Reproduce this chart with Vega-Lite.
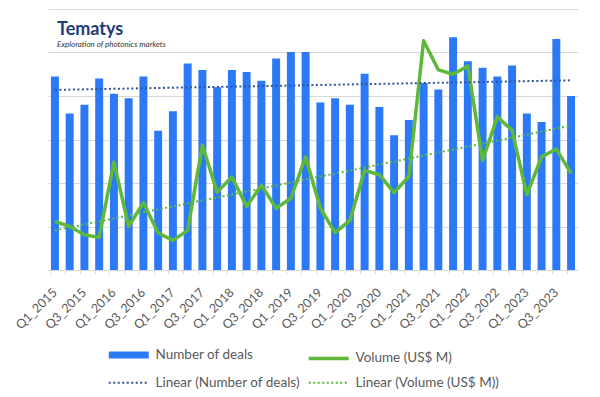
{
  "$schema": "https://vega.github.io/schema/vega-lite/v6.json",
  "width": 530,
  "height": 261,
  "autosize": {"type": "none"},
  "padding": {"left": 48, "top": 9, "right": 22, "bottom": 127},
  "background": "white",
  "config": {"view": {"stroke": null}, "font": "Lato"},
  "title": {
    "text": "Tematys",
    "subtitle": "Exploration of photonics markets",
    "anchor": "start",
    "frame": "group",
    "orient": "top",
    "offset": -40,
    "dx": 9,
    "font": "Lato",
    "fontSize": 18,
    "fontWeight": "bold",
    "color": "#1E3C78",
    "subtitleFont": "Lato",
    "subtitleFontSize": 8,
    "subtitleFontStyle": "italic",
    "subtitleColor": "#333333",
    "subtitlePadding": 2
  },
  "datasets": {
    "main": [
      {"q": "Q1_2015", "Number of deals": 44.5, "Volume (US$ M)": 11.2},
      {"q": "Q2_2015", "Number of deals": 36.0, "Volume (US$ M)": 10.0},
      {"q": "Q3_2015", "Number of deals": 38.0, "Volume (US$ M)": 8.1},
      {"q": "Q4_2015", "Number of deals": 44.0, "Volume (US$ M)": 7.5},
      {"q": "Q1_2016", "Number of deals": 40.5, "Volume (US$ M)": 24.8},
      {"q": "Q2_2016", "Number of deals": 39.5, "Volume (US$ M)": 10.0},
      {"q": "Q3_2016", "Number of deals": 44.5, "Volume (US$ M)": 15.5},
      {"q": "Q4_2016", "Number of deals": 32.0, "Volume (US$ M)": 8.5},
      {"q": "Q1_2017", "Number of deals": 36.5, "Volume (US$ M)": 6.8},
      {"q": "Q2_2017", "Number of deals": 47.5, "Volume (US$ M)": 9.1},
      {"q": "Q3_2017", "Number of deals": 46.0, "Volume (US$ M)": 28.7},
      {"q": "Q4_2017", "Number of deals": 42.0, "Volume (US$ M)": 17.9},
      {"q": "Q1_2018", "Number of deals": 46.0, "Volume (US$ M)": 21.4},
      {"q": "Q2_2018", "Number of deals": 45.5, "Volume (US$ M)": 14.6},
      {"q": "Q3_2018", "Number of deals": 43.5, "Volume (US$ M)": 19.5},
      {"q": "Q4_2018", "Number of deals": 48.6, "Volume (US$ M)": 14.2},
      {"q": "Q1_2019", "Number of deals": 50.1, "Volume (US$ M)": 16.5},
      {"q": "Q2_2019", "Number of deals": 50.1, "Volume (US$ M)": 26.0},
      {"q": "Q3_2019", "Number of deals": 38.5, "Volume (US$ M)": 14.2},
      {"q": "Q4_2019", "Number of deals": 39.5, "Volume (US$ M)": 8.6},
      {"q": "Q1_2020", "Number of deals": 38.0, "Volume (US$ M)": 11.4},
      {"q": "Q2_2020", "Number of deals": 45.1, "Volume (US$ M)": 22.9},
      {"q": "Q3_2020", "Number of deals": 37.5, "Volume (US$ M)": 21.9},
      {"q": "Q4_2020", "Number of deals": 31.0, "Volume (US$ M)": 17.8},
      {"q": "Q1_2021", "Number of deals": 34.5, "Volume (US$ M)": 21.5},
      {"q": "Q2_2021", "Number of deals": 43.0, "Volume (US$ M)": 52.7},
      {"q": "Q3_2021", "Number of deals": 41.5, "Volume (US$ M)": 46.0},
      {"q": "Q4_2021", "Number of deals": 53.5, "Volume (US$ M)": 45.0},
      {"q": "Q1_2022", "Number of deals": 48.0, "Volume (US$ M)": 46.9},
      {"q": "Q2_2022", "Number of deals": 46.5, "Volume (US$ M)": 25.2},
      {"q": "Q3_2022", "Number of deals": 44.5, "Volume (US$ M)": 35.2},
      {"q": "Q4_2022", "Number of deals": 47.0, "Volume (US$ M)": 32.1},
      {"q": "Q1_2023", "Number of deals": 36.0, "Volume (US$ M)": 17.3},
      {"q": "Q2_2023", "Number of deals": 34.0, "Volume (US$ M)": 26.0},
      {"q": "Q3_2023", "Number of deals": 53.1, "Volume (US$ M)": 27.8},
      {"q": "Q4_2023", "Number of deals": 40.0, "Volume (US$ M)": 22.2}
    ],
    "trend": [
      {"q": "Q1_2015", "series": "Linear (Number of deals)", "value": 41.4},
      {"q": "Q4_2023", "series": "Linear (Number of deals)", "value": 43.6},
      {"q": "Q1_2015", "series": "Linear (Volume (US$ M))", "value": 9.1},
      {"q": "Q4_2023", "series": "Linear (Volume (US$ M))", "value": 33.2}
    ]
  },
  "layer": [
    {
      "data": {"name": "main"},
      "transform": [
        {"fold": ["Number of deals", "Volume (US$ M)"], "as": ["series", "value"]},
        {"filter": "datum.series == 'Number of deals'"}
      ],
      "mark": {"type": "bar"},
      "encoding": {
        "x": {
          "field": "q",
          "type": "ordinal",
          "sort": null,
          "scale": {
            "domain": ["Q1_2015","Q2_2015","Q3_2015","Q4_2015","Q1_2016","Q2_2016","Q3_2016","Q4_2016","Q1_2017","Q2_2017","Q3_2017","Q4_2017","Q1_2018","Q2_2018","Q3_2018","Q4_2018","Q1_2019","Q2_2019","Q3_2019","Q4_2019","Q1_2020","Q2_2020","Q3_2020","Q4_2020","Q1_2021","Q2_2021","Q3_2021","Q4_2021","Q1_2022","Q2_2022","Q3_2022","Q4_2022","Q1_2023","Q2_2023","Q3_2023","Q4_2023"],
            "paddingInner": 0.46,
            "paddingOuter": 0.2
          },
          "axis": {
            "title": null,
            "bandPosition": 0,
            "domainColor": "#d9d9d9",
            "tickColor": "#d9d9d9",
            "tickSize": 4,
            "labelAngle": -45,
            "labelAlign": "right",
            "labelBaseline": "middle",
            "labelPadding": 16,
            "labelFontSize": 12.5,
            "labelColor": "#595959",
            "labelFont": "Lato",
            "labelExpr": "indexof(datum.value, 'Q2') == 0 || indexof(datum.value, 'Q4') == 0 ? '' : datum.value",
            "labelOverlap": false
          }
        },
        "y": {
          "field": "value",
          "type": "quantitative",
          "scale": {"domain": [0, 60]},
          "axis": {
            "title": null,
            "labels": false,
            "ticks": false,
            "domain": false,
            "values": [0, 10, 20, 30, 40, 50, 60],
            "gridColor": "#d9d9d9",
            "gridWidth": 1
          }
        },
        "color": {
          "field": "series",
          "type": "nominal",
          "scale": {
            "domain": ["Number of deals", "Volume (US$ M)", "Linear (Number of deals)", "Linear (Volume (US$ M))"],
            "range": ["#2B79F7", "#5EB83B", "#2F5597", "#5EB83B"]
          },
          "legend": {
            "title": null,
            "orient": "none",
            "direction": "horizontal",
            "values": ["Number of deals", "Volume (US$ M)", "Linear (Number of deals)", "Linear (Volume (US$ M))"],
            "legendX": 59,
            "legendY": 339,
            "columns": 2,
            "padding": 0,
            "rowPadding": 6,
            "columnPadding": 0,
            "symbolType": "M-1,0H7",
            "symbolSize": 100,
            "labelOffset": 35,
            "labelFontSize": 13.5,
            "labelFont": "Lato",
            "labelColor": "#595959",
            "encode": {
              "symbols": {
                "update": {
                  "fill": {"value": "transparent"},
                  "stroke": {"scale": "color", "field": "value"},
                  "strokeWidth": {"signal": "datum.value == 'Number of deals' ? 7 : (datum.value == 'Volume (US$ M)' ? 3.5 : 2)"},
                  "strokeDash": {"signal": "indexof(datum.value, 'Linear') == 0 ? [2, 2.5] : [1, 0]"},
                  "strokeCap": {"value": "butt"},
                  "opacity": {"value": 1}
                }
              }
            }
          }
        }
      }
    },
    {
      "data": {"name": "main"},
      "transform": [
        {"fold": ["Number of deals", "Volume (US$ M)"], "as": ["series", "value"]},
        {"filter": "datum.series == 'Volume (US$ M)'"}
      ],
      "mark": {"type": "line", "strokeWidth": 3.5, "strokeJoin": "round"},
      "encoding": {
        "x": {"field": "q", "type": "ordinal", "sort": null},
        "y": {"field": "value", "type": "quantitative"},
        "color": {"field": "series", "type": "nominal"}
      }
    },
    {
      "data": {"name": "trend"},
      "mark": {"type": "line", "strokeWidth": 2, "strokeDash": [2, 2.5]},
      "encoding": {
        "x": {"field": "q", "type": "ordinal", "sort": null},
        "y": {"field": "value", "type": "quantitative"},
        "color": {"field": "series", "type": "nominal"}
      }
    }
  ]
}
